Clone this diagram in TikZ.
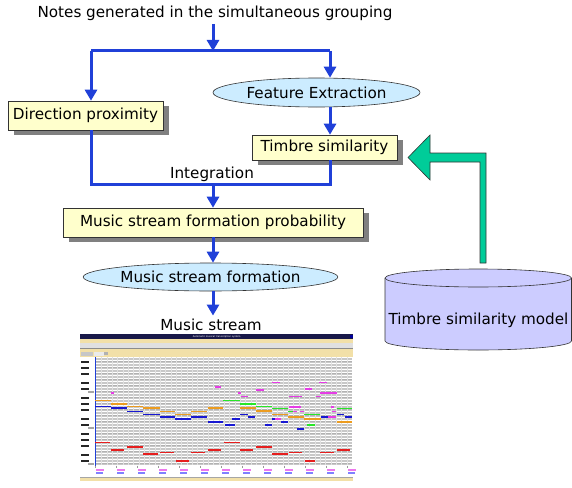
\documentclass[tikz,border=0pt]{standalone}
\usepackage{fontspec}
\setmainfont{DejaVu Sans}
\usetikzlibrary{shapes, arrows.meta, shadows}

\definecolor{flowblue}{RGB}{32,64,216}
\definecolor{boxyellow}{RGB}{255,255,204}
\definecolor{procblue}{RGB}{204,236,255}
\definecolor{dbviolet}{RGB}{204,204,255}
\definecolor{fbgreen}{RGB}{0,204,153}
\definecolor{barbeige}{RGB}{242,224,168}
\definecolor{titlenavy}{RGB}{24,24,72}
\definecolor{gridgray}{RGB}{200,200,200}
\definecolor{noteorange}{RGB}{236,156,32}
\definecolor{noteblue}{RGB}{24,24,210}
\definecolor{notegreen}{RGB}{40,230,40}
\definecolor{notemagenta}{RGB}{230,60,230}
\definecolor{notered}{RGB}{230,30,30}

\begin{document}
\begin{tikzpicture}[x=1pt, y=-1pt, >={Triangle[width=12pt,length=11pt]}, font=\fontsize{15.2pt}{18pt}\selectfont]

\tikzstyle{block} = [draw=black!80, line width=0.6pt, fill=boxyellow, shape=rectangle, inner sep=0pt, drop shadow={shadow xshift=6pt, shadow yshift=-5pt, fill=black!50, opacity=1}]
\tikzstyle{process} = [draw=black!80, line width=0.6pt, fill=procblue, shape=ellipse, inner sep=0pt]
\tikzstyle{note} = [inner sep=0pt]

\useasboundingbox (0,0) rectangle (572,487);

\node at (215,13) (notes) {Notes generated in the simultaneous grouping};
\node [block, minimum width=155pt, minimum height=29pt] at (85.5,115.5) (dirprox) {Direction proximity};
\node [process, minimum width=207pt, minimum height=29pt] at (316.5,92.5) (feat) {Feature Extraction};
\node [block, minimum width=145pt, minimum height=25pt] at (324.5,147.5) (tsim) {Timbre similarity};
\node at (212,174) (integ) {Integration};
\node [block, minimum width=300pt, minimum height=29pt] at (213,222.5) (prob) {Music stream formation probability};
\node [process, minimum width=251pt, minimum height=28pt] at (210.5,277) (msf) {Music stream formation};
\node at (211,325) (stream) {Music stream};

\coordinate (split) at (213,51);
\coordinate (splitL) at (91,51);
\coordinate (splitR) at (330,51);
\coordinate (join) at (213,184);

\begin{scope}[line width=3pt, flowblue]
     \draw[->] (notes.south -| split) -- (split);
     \draw (splitL) -- (splitR);
     \draw[->] (splitL) -- (splitL |- dirprox.north);
     \draw[->] (splitR) -- (splitR |- feat.north);
     \draw[->] (splitR |- feat.south) -- (splitR |- tsim.north);
     \draw (splitL |- dirprox.south) |- (join) -| (splitR |- tsim.south);
     \draw[->] (join) -- (prob);
     \draw[->] (prob.south) -- (prob.south |- msf.north);
     \draw[->] (msf.south -| prob) -- (stream.north -| prob);
\end{scope}

% model database
\filldraw[fill=dbviolet, draw=black!80, line width=0.6pt] (385,278) -- (385,341)
     arc[start angle=180, end angle=360, x radius=93.25pt, y radius=9pt] -- (571.5,278)
     arc[start angle=0, end angle=180, x radius=93.25pt, y radius=9pt] -- cycle;
\draw[black!80, line width=0.6pt] (385,278) arc[start angle=180, end angle=360, x radius=93.25pt, y radius=9pt];
\node at (478.5,320) (model) {Timbre similarity model};

% feedback arrow into the timbre block
\filldraw[fill=fbgreen, draw=black!80, line width=0.6pt] (486,263) -- (486,153) -- (430,153) -- (430,135)
     -- (408,157.5) -- (430,180) -- (430,162) -- (480,162) -- (480,263) -- cycle;

% piano roll window
\begin{scope}[shift={(75,320)}, x=0.3333pt, y=-0.3333pt]
     \fill[white] (15,43) rectangle (835,482);
     \fill[titlenavy] (15,43) rectangle (835,57);
     \fill[blue!60!black] (826,45) rectangle (834,55);
     \node[note, text=white, font=\fontsize{2.4pt}{3pt}\selectfont] at (425,50) (wintitle) {Automatic musical transcription system};
     \fill[barbeige] (15,57) rectangle (835,70);
     \fill[black!12] (15,70) rectangle (835,86);
     \draw[black!45, line width=0.5pt] (15,86) -- (835,86);
     \fill[barbeige] (15,87) rectangle (835,111);
     \fill[black!22] (18,97) rectangle (55,109);
     \fill[black!8] (57,97) rectangle (86,109);
     \fill[black!30] (86,95) rectangle (100,104);

     % keyboard and grid
     \fill[gridgray] (63,112) rectangle (830,436);
     \foreach \k in {0,...,35} {
          \pgfmathtruncatemacro{\m}{mod(\k,12)}
          \ifodd\k \fill[black!30] (63,112+9*\k) rectangle (830,116+9*\k); \fi
          \ifnum\m=1 \fill[black!85] (17,113+9*\k) rectangle (42,120+9*\k); \fi
          \ifnum\m=3 \fill[black!85] (17,113+9*\k) rectangle (42,120+9*\k); \fi
          \ifnum\m=5 \fill[black!85] (17,113+9*\k) rectangle (42,120+9*\k); \fi
          \ifnum\m=8 \fill[black!85] (17,113+9*\k) rectangle (42,120+9*\k); \fi
          \ifnum\m=10 \fill[black!85] (17,113+9*\k) rectangle (42,120+9*\k); \fi
          \ifnum\m=11 \fill[black!35] (40,114+9*\k) rectangle (57,121+9*\k); \fi
          \draw[white, line width=0.4pt] (63,112+9*\k) -- (830,112+9*\k);
     }
     \foreach \x in {79,95,...,830}
          \draw[white!45!gridgray, line width=0.2pt] (\x,112) -- (\x,436);
     \fill[flowblue] (59,112) rectangle (62,440);

     % notes
     \foreach \a/\b/\y in {61/107/242, 107/157/252, 157/205/260, 205/254/265, 254/301/275, 301/349/284, 349/397/275, 399/444/265, 495/543/265, 543/590/273, 592/640/284, 640/688/292, 688/738/297, 785/830/307}
          \fill[noteorange] (\a,\y-2.5) rectangle (\b,\y+2.5);
     \foreach \a/\b/\y in {61/107/260, 107/157/265, 157/205/275, 205/254/284, 254/301/292, 301/349/297, 349/397/292, 399/444/307, 450/480/315, 472/495/297, 495/518/284, 518/540/292, 570/592/315, 592/600/297, 618/638/307, 666/686/328, 738/760/292, 785/808/284, 810/830/292}
          \fill[noteblue] (\a,\y-2.5) rectangle (\b,\y+2.5);
     \foreach \a/\b/\y in {445/495/242, 495/543/252, 543/592/260, 592/640/266, 640/655/275, 688/735/284, 696/720/315, 785/830/266}
          \fill[notegreen] (\a,\y-2.5) rectangle (\b,\y+2.5);
     \foreach \a/\b/\y in {108/117/220, 420/438/202, 488/498/220, 498/520/230, 544/568/211, 592/615/188, 642/680/230, 642/678/261, 690/712/207, 722/738/230, 732/756/188, 735/785/220, 768/778/261, 772/782/275, 655/665/275, 676/686/275, 600/618/297, 760/782/292}
          \fill[notemagenta] (\a,\y-2.5) rectangle (\b,\y+2.5);
     \foreach \a/\b/\y in {61/105/368, 107/147/390, 157/204/381, 205/249/403, 254/297/398, 303/341/423, 349/389/398, 399/437/390, 448/495/368, 495/535/390, 543/590/381, 592/638/403, 642/682/398, 690/720/423, 736/776/398, 785/825/390}
          \fill[notered] (\a,\y-2.5) rectangle (\b,\y+2.5);

     % time axis
     \foreach \x in {61,124,...,830} {
          \draw[black!40, line width=0.3pt] (\x,437) -- (\x,445);
          \fill[notemagenta!70] (\x+1,448) rectangle ++(25,6);
          \fill[blue!50] (\x+1,456) rectangle ++(23,5);
     }
     \draw[black!35, line width=0.4pt] (15,473) -- (835,473);
     \fill[barbeige] (15,475) rectangle (835,482);
\end{scope}
\end{tikzpicture}
\end{document}
